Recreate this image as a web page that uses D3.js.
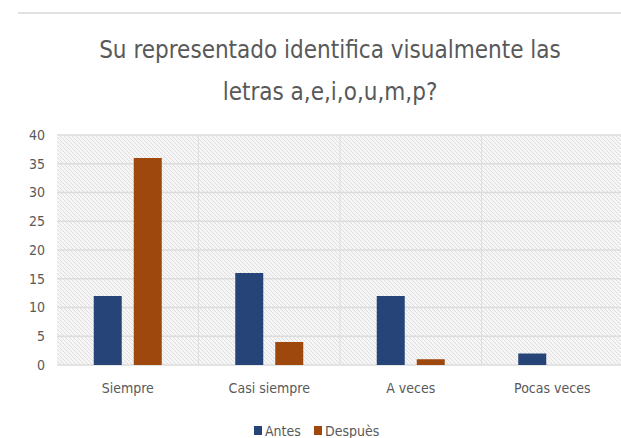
<!DOCTYPE html>
<html>
<head>
<meta charset="utf-8">
<script src="https://cdn.jsdelivr.net/npm/d3@7"></script>
<style>
  body { margin: 0; background: #fff; }
  text { font-family: "Liberation Sans Narrow", "DejaVu Sans Condensed", sans-serif; fill: #595959; }
</style>
</head>
<body>
<svg id="chart" width="621" height="438"></svg>
<script>
// datos
const categorias = ["Siempre", "Casi siempre", "A veces", "Pocas veces"];
const series = ["Antes", "Despuès"];
const antes = [12, 16, 12, 2];
const despues = [36, 4, 1, 0];
const yTicks = [0, 5, 10, 15, 20, 25, 30, 35, 40];
const colores = ["#264478", "#9e480e"];
const titulo = ["Su representado identifica visualmente las", "letras a,e,i,o,u,m,p?"];

const svg = d3.select("#chart");
const margin = {top: 135, left: 57, right: 0, bottom: 73};
const W = 623, H = 438;

// linea gris superior
svg.append("line")
  .attr("x1", 18).attr("x2", 621).attr("y1", 13).attr("y2", 13)
  .attr("stroke", "#d9d9d9").attr("stroke-width", 1.5);

// titulo
svg.append("g").selectAll("text")
  .data(titulo).enter().append("text")
  .attr("x", 330).attr("y", (d, i) => 58 + i * 42)
  .attr("text-anchor", "middle")
  .style("font-size", "24px")
  .text(d => d);

const x0 = d3.scaleBand().domain(categorias).range([margin.left, W - margin.right]);
const x1 = d3.scaleBand().domain(series).range([0, 68]).paddingInner(0.3);
const y = d3.scaleLinear().domain([0, 40]).range([H - margin.bottom, margin.top]);

// patron rayado
const defs = svg.append("defs");
const pat = defs.append("pattern")
  .attr("id", "rayas").attr("patternUnits", "userSpaceOnUse")
  .attr("width", 4).attr("height", 4);
pat.append("rect").attr("width", 4).attr("height", 4).attr("fill", "#f6f6f6");
pat.append("path").attr("d", "M-1,-1 L5,5 M-1,3 L1,5 M3,-1 L5,1")
  .attr("stroke", "#dedede").attr("stroke-width", 1);

svg.append("rect")
  .attr("x", margin.left).attr("y", y(40))
  .attr("width", W - margin.right - margin.left).attr("height", y(0) - y(40))
  .attr("fill", "url(#rayas)");

// rejilla horizontal
svg.append("g").selectAll("line")
  .data(yTicks).enter().append("line")
  .attr("x1", margin.left).attr("x2", W)
  .attr("y1", d => y(d)).attr("y2", d => y(d))
  .attr("stroke", "#dcdcdc").attr("stroke-width", 1.5);

// rejilla vertical
svg.append("g").selectAll("line")
  .data(categorias.slice(1)).enter().append("line")
  .attr("x1", d => x0(d)).attr("x2", d => x0(d))
  .attr("y1", y(40)).attr("y2", y(0))
  .attr("stroke", "#dedede").attr("stroke-width", 1);

// eje y
const yAxis = svg.append("g")
  .attr("transform", `translate(${margin.left - 12},0)`)
  .call(d3.axisLeft(y).tickValues(yTicks).tickSize(0).tickPadding(0));
yAxis.select(".domain").remove();
yAxis.selectAll("text").style("font-size", "14px").attr("fill", "#595959");

// barras
const filas = categorias.map((c, i) => ({cat: c, vals: [antes[i], despues[i]]}));
const grupo = svg.append("g").selectAll("g")
  .data(filas).enter().append("g")
  .attr("transform", d => `translate(${x0(d.cat) + (x0.bandwidth() - 68) / 2},0)`);

grupo.selectAll("rect")
  .data(d => d.vals.map((v, j) => ({s: series[j], v: v, j: j})))
  .enter().append("rect")
  .filter(d => d.v > 0)
  .attr("x", d => x1(d.s))
  .attr("y", d => y(d.v))
  .attr("width", x1.bandwidth())
  .attr("height", d => y(0) - y(d.v))
  .attr("fill", d => colores[d.j]);

// eje x
const xAxis = svg.append("g")
  .attr("transform", `translate(0,${y(0)})`)
  .call(d3.axisBottom(x0).tickSize(0).tickPadding(18));
xAxis.select(".domain").remove();
xAxis.selectAll("text").style("font-size", "14px").attr("fill", "#595959");

// leyenda
const ley = svg.append("g").attr("transform", "translate(254,436)");
const item = ley.selectAll("g").data(series).enter().append("g")
  .attr("transform", (d, i) => `translate(${i * 60},0)`);
item.append("rect").attr("x", 0).attr("y", -10).attr("width", 8).attr("height", 9)
  .attr("fill", (d, i) => colores[i]);
item.append("text").attr("x", 11).attr("y", 0)
  .style("font-size", "14px").text(d => d);
</script>
</body>
</html>
